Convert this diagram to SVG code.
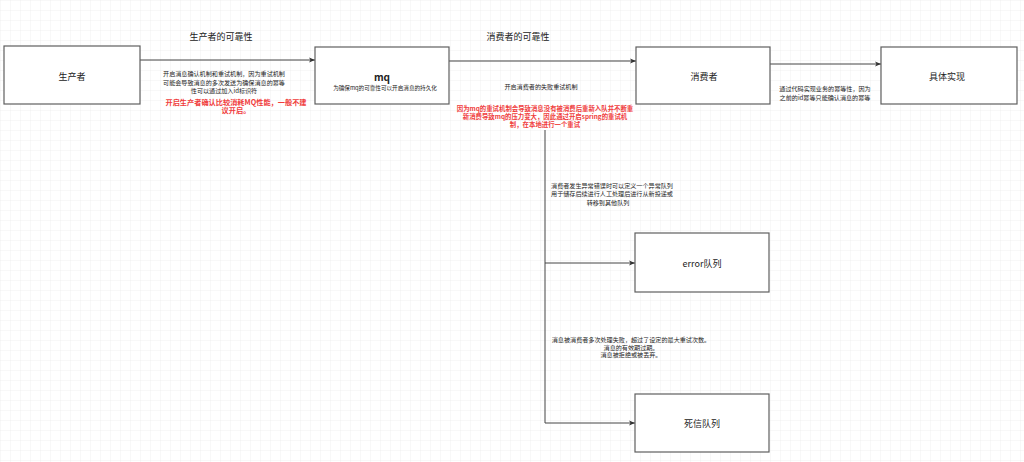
<svg xmlns="http://www.w3.org/2000/svg" width="1024" height="462" viewBox="0 0 1024 462">
<defs>
<pattern id="grid" width="10" height="10" patternUnits="userSpaceOnUse">
<path d="M10 0 L0 0 0 10" fill="none" stroke="#e8e8e8" stroke-width="0.6"/>
</pattern>
<marker id="arr" viewBox="0 0 10 10" refX="10" refY="5" markerWidth="6" markerHeight="6" orient="auto" markerUnits="userSpaceOnUse">
<path d="M0 1 L10 5 L0 9 L2.5 5 Z" fill="#333"/>
</marker>
</defs>
<style>
.box{fill:#fff;stroke:#5f5f5f;stroke-width:1.2}
.lbl{font-family:"Noto Sans CJK SC","Liberation Sans",sans-serif;font-size:9px;fill:#222;text-anchor:middle;dominant-baseline:central}
.ttl{font-family:"Noto Sans CJK SC","Liberation Sans",sans-serif;font-size:9px;fill:#222;text-anchor:middle;dominant-baseline:central}
.t{font-family:"Noto Sans CJK SC","Liberation Sans",sans-serif;font-size:6.1px;fill:#222;text-anchor:middle;dominant-baseline:central}
.r{font-family:"Noto Sans CJK SC","Liberation Sans",sans-serif;font-size:6.4px;font-weight:bold;fill:#f03c3c;text-anchor:middle;dominant-baseline:central}
.edge{fill:none;stroke:#444;stroke-width:1}
</style>
<rect width="1024" height="462" fill="#fff"/>
<rect width="1024" height="462" fill="url(#grid)"/>
<g id="connectors">
<path class="edge" d="M140 60 L315 60" marker-end="url(#arr)"/>
<path class="edge" d="M449 61 L636 61" marker-end="url(#arr)"/>
<path class="edge" d="M770 64 L881 64" marker-end="url(#arr)"/>
<path class="edge" d="M545 130 L545 423 L635 423" marker-end="url(#arr)"/>
<path class="edge" d="M545 263 L635 263" marker-end="url(#arr)"/>
</g>
<g id="producer">
<rect class="box" x="4" y="46" width="136" height="58"/>
<text class="lbl" x="72" y="76">生产者</text>
</g>
<g id="mq">
<rect class="box" x="315" y="47" width="134" height="57"/>
<text class="lbl" x="382" y="76" style="font-weight:bold;font-size:10px">mq</text>
<text class="t" x="385" y="88" style="font-size:5.6px">为确保mq的可靠性可以开启消息的持久化</text>
</g>
<g id="consumer">
<rect class="box" x="636" y="47" width="134" height="57"/>
<text class="lbl" x="704" y="76">消费者</text>
</g>
<g id="impl">
<rect class="box" x="881" y="47" width="136" height="57"/>
<text class="lbl" x="947" y="76">具体实现</text>
</g>
<g id="error-queue">
<rect class="box" x="635" y="233" width="134" height="59"/>
<text class="lbl" x="702" y="263">error队列</text>
</g>
<g id="dead-letter-queue">
<rect class="box" x="635" y="394" width="134" height="58"/>
<text class="lbl" x="702" y="423">死信队列</text>
</g>
<g id="labels">
<text class="ttl" x="221" y="36">生产者的可靠性</text>
<text class="ttl" x="518" y="36">消费者的可靠性</text>
<text class="t" x="224" y="73">开启消息确认机制和重试机制，因为重试机制</text>
<text class="t" x="224" y="82">可能会导致消息的多次发送为确保消息的幂等</text>
<text class="t" x="224" y="90">性可以通过加入id标识符</text>
<text class="r" x="236" y="102" style="font-size:7.2px">开启生产者确认比较消耗MQ性能，一般不建</text>
<text class="r" x="236" y="110" style="font-size:7.2px">议开启。</text>
<text class="t" x="541" y="86">开启消费者的失败重试机制</text>
<text class="r" x="545" y="108">因为mq的重试机制会导致消息没有被消费后重新入队并不断重</text>
<text class="r" x="545" y="116">新消费导致mq的压力变大，因此通过开启spring的重试机</text>
<text class="r" x="545" y="124">制，在本地进行一个重试</text>
<text class="t" x="825" y="88">通过代码实现业务的幂等性，因为</text>
<text class="t" x="825" y="97">之前的id幂等只能确认消息的幂等</text>
<text class="t" x="612" y="185">消费者发生异常错误时可以定义一个异常队列</text>
<text class="t" x="612" y="193">用于储存后续进行人工处理后进行从新投递或</text>
<text class="t" x="608" y="202">转移到其他队列</text>
<text class="t" x="631" y="339">消息被消费者多次处理失败，超过了设定的最大重试次数。</text>
<text class="t" x="631" y="347">消息的有效期过期。</text>
<text class="t" x="631" y="354">消息被拒绝或被丢弃。</text>
</g>
</svg>
